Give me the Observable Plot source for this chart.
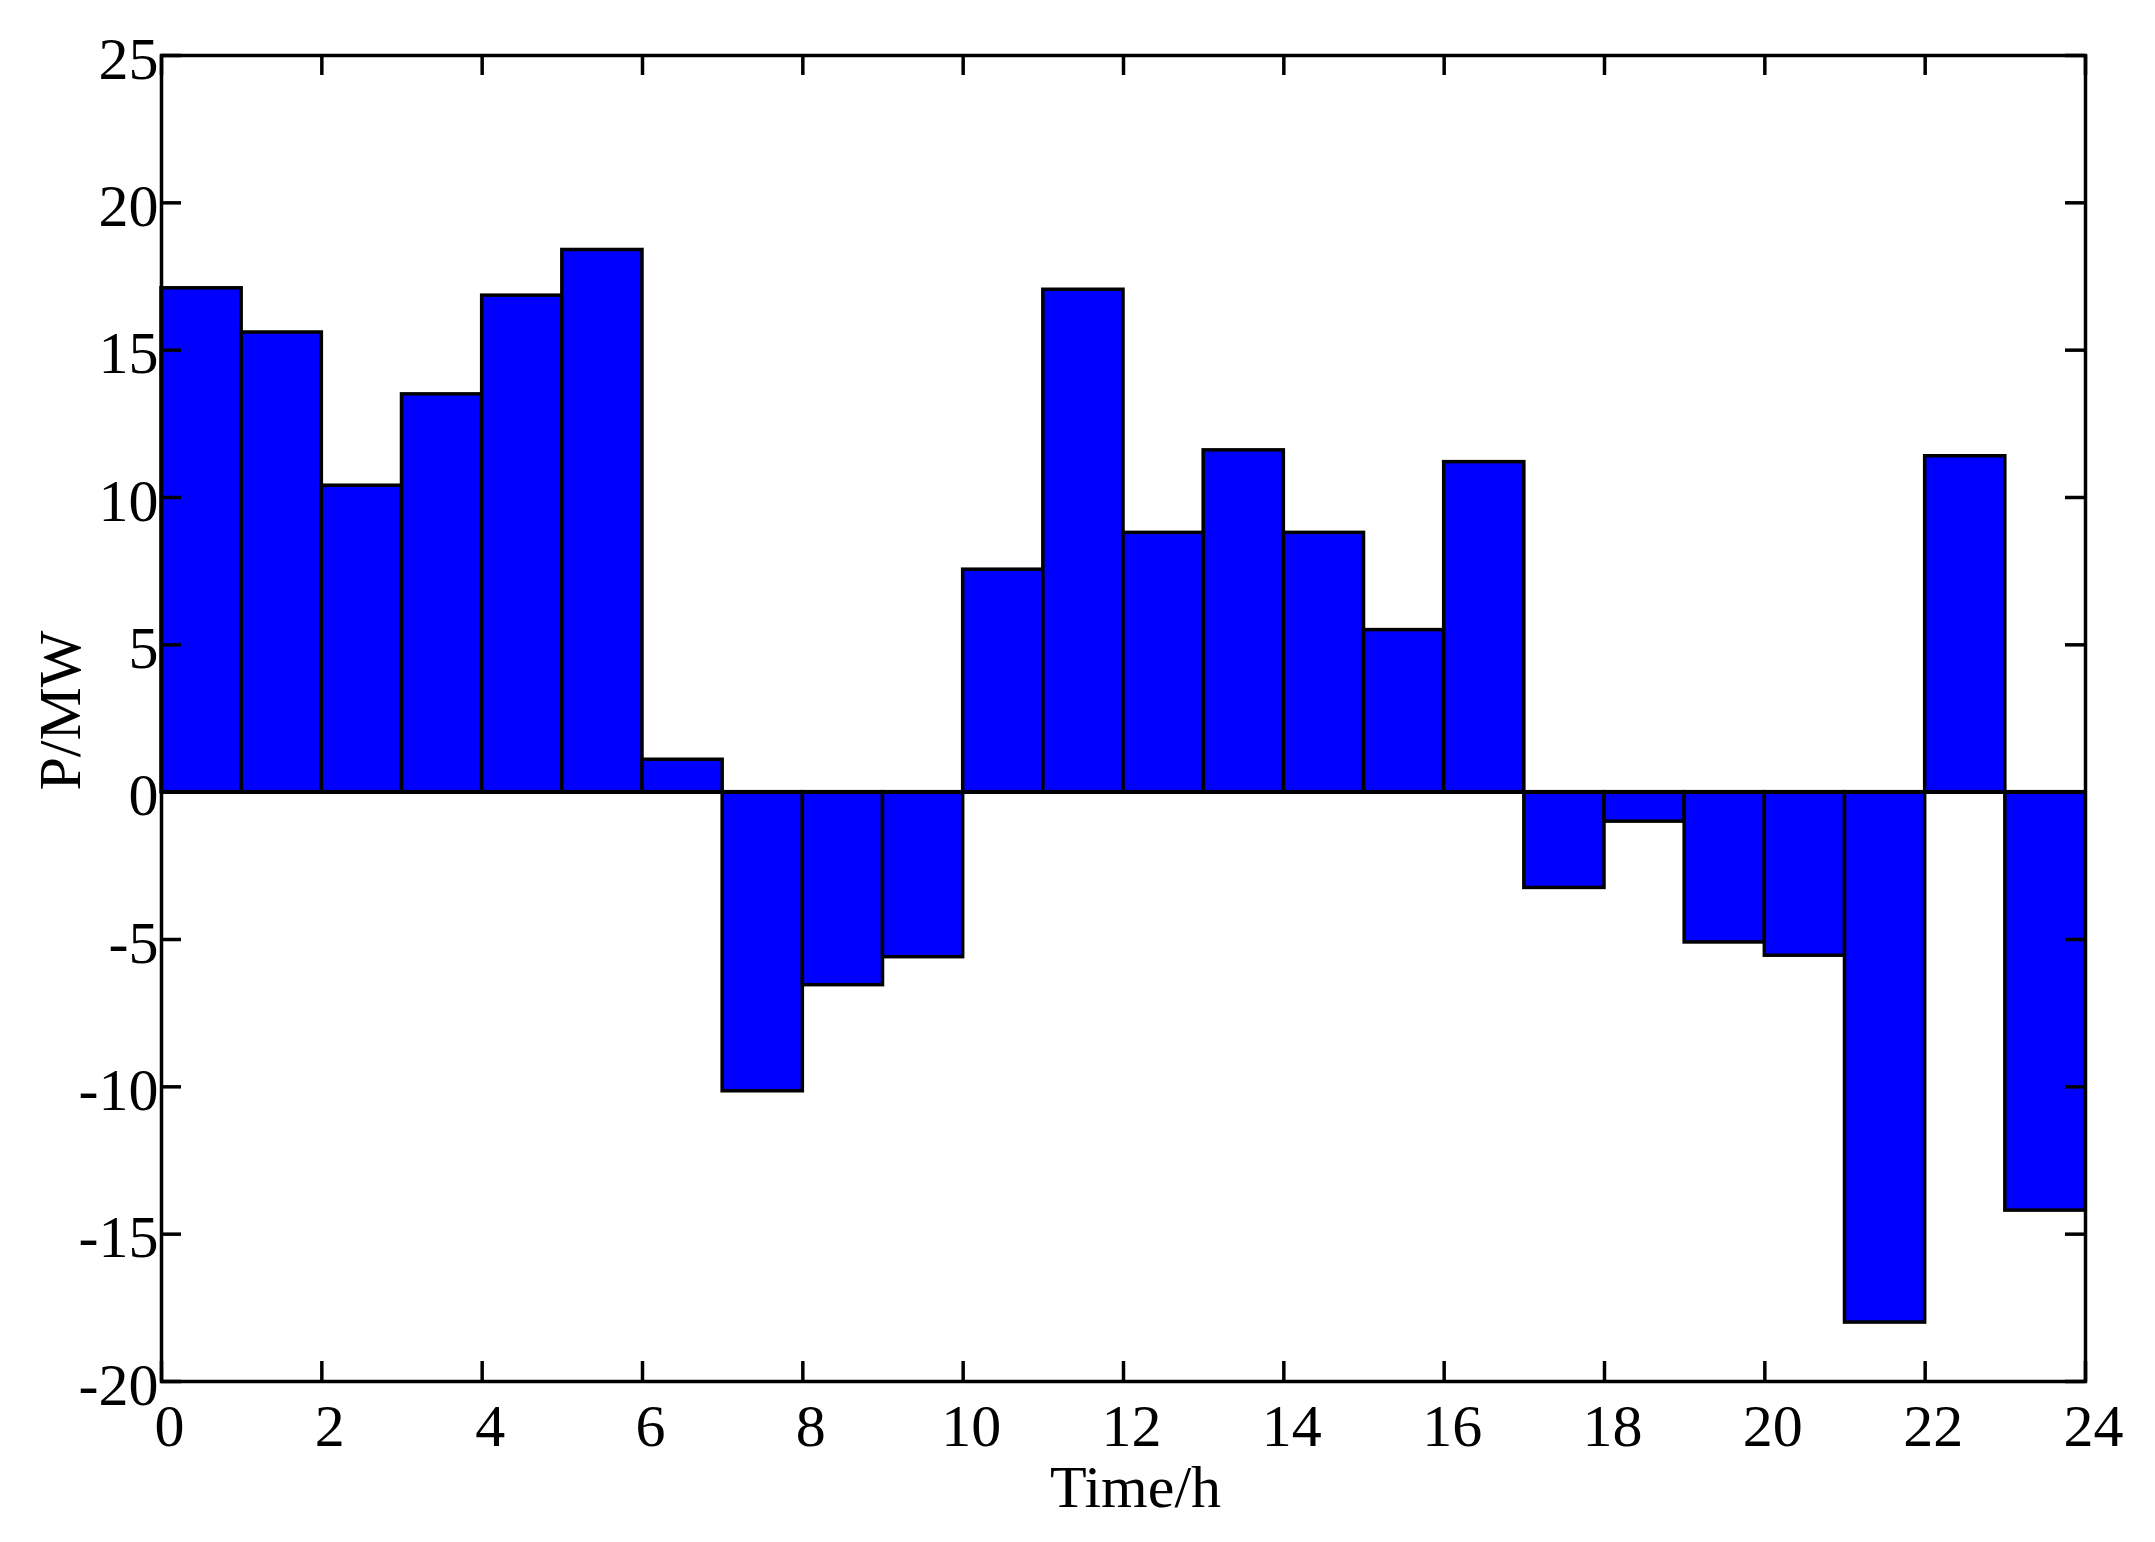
<!DOCTYPE html>
<html>
<head>
<meta charset="utf-8">
<script src="https://cdn.jsdelivr.net/npm/d3@7"></script>
<script src="https://cdn.jsdelivr.net/npm/@observablehq/plot@0.6"></script>
<style>
  html, body { margin: 0; padding: 0; background: #fff; }
  #chart svg { display: block; }
</style>
</head>
<body>
<div id="chart"></div>
<script>
const hours = [0,1,2,3,4,5,6,7,8,9,10,11,12,13,14,15,16,17,18,19,20,21,22,23];
const power = [17.1, 15.6, 10.4, 13.5, 16.85, 18.4, 1.1, -10.15, -6.55, -5.6, 7.55, 17.05,
               8.8, 11.6, 8.8, 5.5, 11.2, -3.25, -1.0, -5.1, -5.55, -18.0, 11.4, -14.2];
const xTicks = [0,2,4,6,8,10,12,14,16,18,20,22,24];
const yTicks = [-20,-15,-10,-5,0,5,10,15,20,25];
const xLabel = "Time/h";
const yLabel = "P/MW";

const W = 2155, H = 1542;
const mL = 161, mR = 70, mT = 55, mB = 161;
const innerW = W - mL - mR, innerH = H - mT - mB;
const tickLen = 20;
const lw = 3.5;
const font = "'Liberation Serif', 'Times New Roman', serif";
const fs = 60;

const data = hours.map((h, i) => ({h0: h, h1: h + 1, p: power[i]}));

const chart = Plot.plot({
  width: W, height: H,
  marginLeft: mL, marginRight: mR, marginTop: mT, marginBottom: mB,
  style: {fontFamily: font, fontSize: fs + "px", color: "#000", background: "#fff"},
  x: {domain: [0, 24], ticks: xTicks},
  y: {domain: [-20, 25], ticks: yTicks},
  marks: [
    Plot.rectY(data, {x1: "h0", x2: "h1", y1: 0, y2: "p", fill: "#0000ff", stroke: "#000", strokeWidth: lw}),
    Plot.ruleY([0], {stroke: "#000", strokeWidth: lw}),
    // inward ticks on all four sides
    Plot.tickX(xTicks, {x: d => d, insetTop: innerH - tickLen, stroke: "#000", strokeWidth: lw}),
    Plot.tickX(xTicks, {x: d => d, insetBottom: innerH - tickLen, stroke: "#000", strokeWidth: lw}),
    Plot.tickY(yTicks, {y: d => d, insetRight: innerW - tickLen, stroke: "#000", strokeWidth: lw}),
    Plot.tickY(yTicks, {y: d => d, insetLeft: innerW - tickLen, stroke: "#000", strokeWidth: lw}),
    Plot.frame({stroke: "#000", strokeWidth: lw}),
    Plot.axisX({ticks: xTicks, tickSize: 0, tickPadding: 22, dx: 8, fontSize: fs, label: null, tickFormat: d => String(d)}),
    Plot.axisY({ticks: yTicks, tickSize: 0, tickPadding: 3, dy: 4, fontSize: fs, label: null, tickFormat: d => String(d)}),
    Plot.text([xLabel], {frameAnchor: "bottom", text: d => d, dx: 12, dy: 106, lineAnchor: "middle", fontSize: fs, fill: "#000"}),
    Plot.text([yLabel], {frameAnchor: "left", text: d => d, rotate: -90, textAnchor: "middle", dx: -101, dy: -8, lineAnchor: "middle", fontSize: fs, fill: "#000"})
  ]
});
document.getElementById("chart").appendChild(chart);
</script>
</body>
</html>
